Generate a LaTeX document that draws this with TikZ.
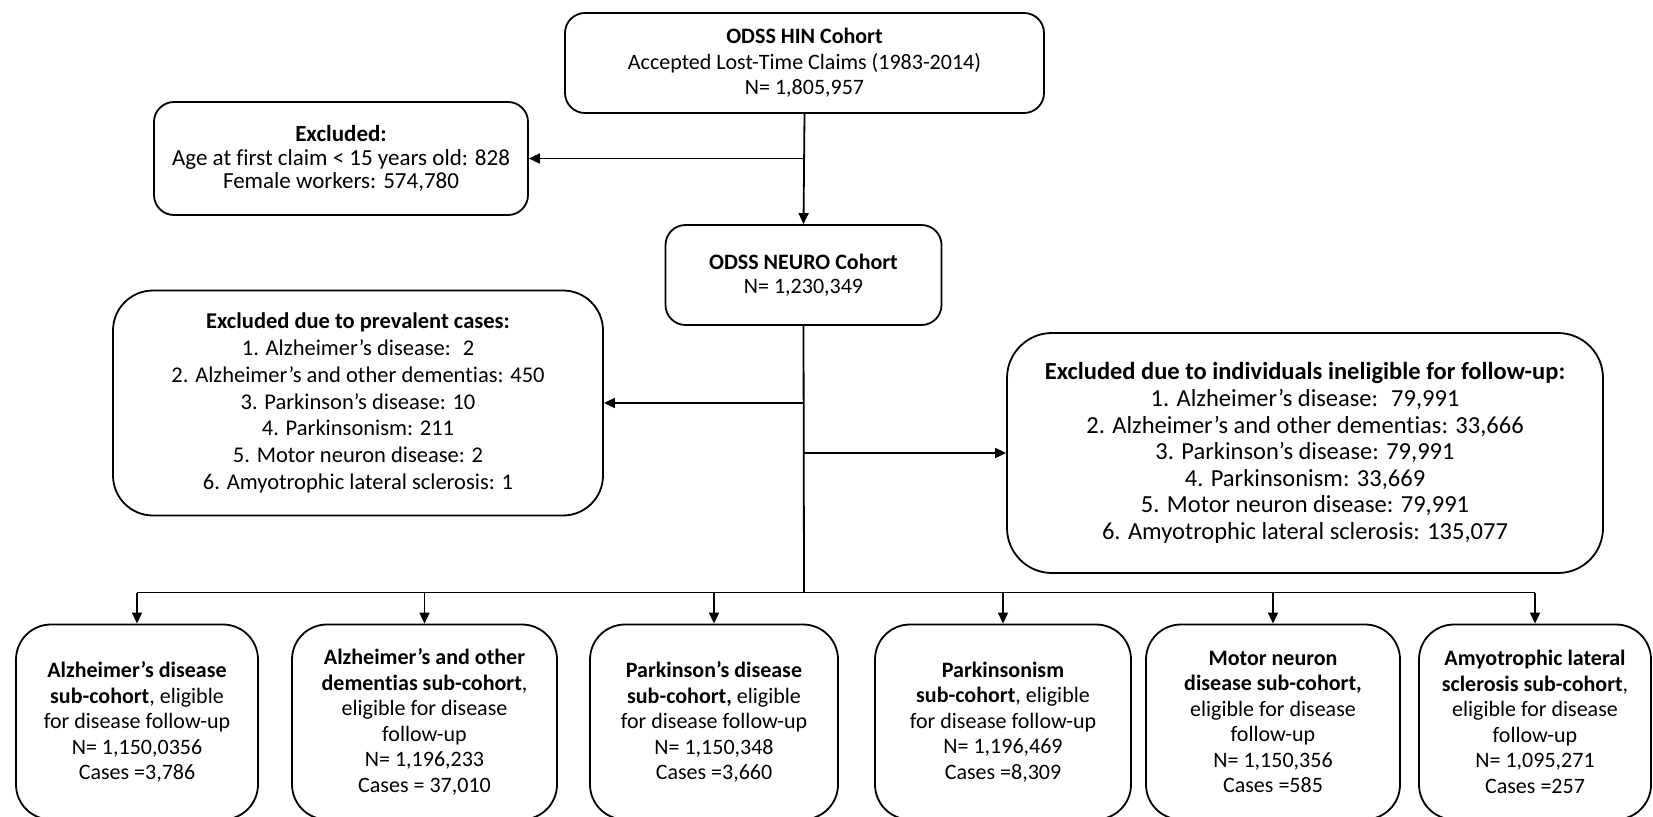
\documentclass[tikz,border=0pt]{standalone}
\usepackage{fontspec}
\setmainfont{Carlito}[Ligatures={NoCommon}]
\usetikzlibrary{arrows.meta}
\begin{document}
\begin{tikzpicture}[x=1pt,y=-1pt,
  box/.style={draw, line width=1.8pt, align=center, font=\fontsize{22}{26}\selectfont, inner sep=0pt, fill=white},
  arr/.style={line width=1.8pt, -{Triangle[length=11pt,width=10pt]}},
  ln/.style={line width=1.8pt}]
\useasboundingbox (0,0) rectangle (1653,816);
\clip (0,0) rectangle (1653,816);
\fill[white] (0,0) rectangle (1653,816);

\node[box, font=\fontsize{22}{25.5}\selectfont, rounded corners=20pt, minimum width=479pt, minimum height=100pt] (hin) at (804.5,63)
  {\textbf{ODSS HIN Cohort}\\Accepted Lost-Time Claims (1983-2014)\\N= 1,805,957};
\node[box, font=\fontsize{23}{23.5}\selectfont, rounded corners=20pt, minimum width=374pt, minimum height=113pt] (excl) at (341,158.5)
  {\textbf{Excluded:}\\Age at first claim < 15 years old: 828\\Female workers: 574,780};
\node[box, font=\fontsize{22}{24}\selectfont, rounded corners=20pt, minimum width=276pt, minimum height=100pt] (neuro) at (803.5,275)
  {\textbf{ODSS NEURO Cohort}\\N= 1,230,349};
\node[box, font=\fontsize{22.5}{26.9}\selectfont, rounded corners=40pt, minimum width=490pt, minimum height=225pt] (prev) at (358,403)
  {\textbf{Excluded due to prevalent cases:}\\1. Alzheimer’s disease: \ 2\\2. Alzheimer’s and other dementias: 450\\3. Parkinson’s disease: 10\\4. Parkinsonism: 211\\5. Motor neuron disease: 2\\6. Amyotrophic lateral sclerosis: 1};
\node[box, font=\fontsize{24.5}{26.6}\selectfont, rounded corners=45pt, minimum width=596pt, minimum height=240pt] (inel) at (1305,453)
  {\textbf{Excluded due to individuals ineligible for follow-up:}\\1. Alzheimer’s disease: \ 79,991\\2. Alzheimer’s and other dementias: 33,666\\3. Parkinson’s disease: 79,991\\4. Parkinsonism: 33,669\\5. Motor neuron disease: 79,991\\6. Amyotrophic lateral sclerosis: 135,077};

\tikzset{sub/.style={box, font=\fontsize{22}{25.5}\selectfont, rounded corners=35pt, minimum height=195pt}}
\node[sub, minimum width=242pt] (s1) at (137,722)
  {\textbf{Alzheimer’s disease}\\\textbf{sub-cohort}, eligible\\for disease follow-up\\N= 1,150,0356\\Cases =3,786};
\node[sub, minimum width=265pt] (s2) at (424.5,722)
  {\textbf{Alzheimer’s and other}\\\textbf{dementias sub-cohort},\\eligible for disease\\follow-up\\N= 1,196,233\\Cases = 37,010};
\node[sub, minimum width=248pt] (s3) at (714,722)
  {\textbf{Parkinson’s disease}\\\textbf{sub-cohort,} eligible\\for disease follow-up\\N= 1,150,348\\Cases =3,660};
\node[sub, minimum width=256pt] (s4) at (1003,722)
  {\textbf{Parkinsonism}\\\textbf{sub-cohort}, eligible\\for disease follow-up\\N= 1,196,469\\Cases =8,309};
\node[sub, minimum width=254pt] (s5) at (1273,722)
  {\textbf{Motor neuron}\\\textbf{disease sub-cohort,}\\eligible for disease\\follow-up\\N= 1,150,356\\Cases =585};
\node[sub, minimum width=232pt] (s6) at (1535,722)
  {\textbf{Amyotrophic lateral}\\\textbf{sclerosis sub-cohort},\\eligible for disease\\follow-up\\N= 1,095,271\\Cases =257};

\coordinate (bus) at (804,592.5);
\coordinate (jx) at (excl.east -| neuro.north);
\coordinate (jp) at (prev.east -| neuro.north);
\coordinate (ji) at (inel.west -| neuro.north);

\draw[arr] (hin.south) -- (neuro.north);
\draw[arr] (jx) -- (excl.east);
\draw[ln] (neuro.south) -- (bus);
\draw[arr] (jp) -- (prev.east);
\draw[arr] (ji) -- (inel.west);
\draw[ln] (bus -| s1.north) -- (bus -| s6.north);
\foreach \s in {s1,s2,s3,s4,s5,s6}
  \draw[arr] (bus -| \s.north) -- (\s.north);
\end{tikzpicture}
\end{document}
